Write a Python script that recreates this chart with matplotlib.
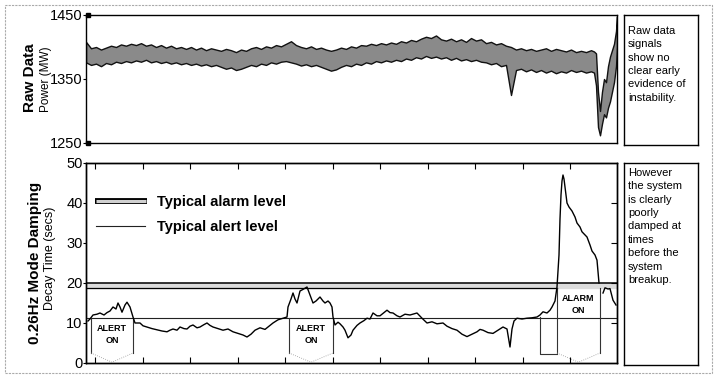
import matplotlib
matplotlib.use("Agg")
import matplotlib.pyplot as plt
from matplotlib.patches import Rectangle
import numpy as np

plt.rcParams["font.family"] = ["Liberation Sans", "DejaVu Sans"]

# ---- raw power data (envelope of the noisy trace), x in samples ----
raw_x = list(range(0, 510, 5)) + [508, 510, 512, 514, 516, 518, 520, 522, 524, 526, 528, 530, 531]
raw_upper = [1408, 1398, 1400, 1396, 1399, 1402, 1400, 1404, 1402, 1405,
             1403, 1406, 1402, 1404, 1400, 1403, 1399, 1402, 1398, 1400,
             1397, 1400, 1396, 1399, 1395, 1398, 1396, 1394, 1397, 1395,
             1392, 1396, 1394, 1398, 1400, 1397, 1401, 1399, 1403, 1401,
             1405, 1409, 1403, 1400, 1398, 1401, 1397, 1399, 1396, 1394,
             1396, 1399, 1397, 1401, 1399, 1403, 1402, 1405, 1403, 1406,
             1404, 1407, 1405, 1409, 1407, 1411, 1409, 1413, 1416, 1414,
             1418, 1412, 1410, 1413, 1409, 1412, 1408, 1414, 1410, 1412,
             1406, 1408, 1404, 1406, 1402, 1400, 1396, 1398, 1395, 1397,
             1394, 1396, 1398, 1394, 1397, 1395, 1393, 1396, 1392, 1394,
             1392, 1395,
             1393, 1390, 1330, 1300, 1330, 1350, 1345, 1370, 1385, 1395, 1405, 1425, 1448]
raw_lower = [1376, 1372, 1374, 1370, 1375, 1373, 1377, 1375, 1378, 1376,
             1379, 1377, 1380, 1376, 1378, 1375, 1377, 1374, 1376, 1373,
             1375, 1372, 1374, 1371, 1373, 1370, 1372, 1369, 1366, 1368,
             1364, 1366, 1369, 1372, 1370, 1374, 1372, 1376, 1374, 1377,
             1378, 1376, 1374, 1371, 1373, 1370, 1372, 1369, 1366, 1363,
             1365, 1369, 1372, 1370, 1374, 1372, 1376, 1374, 1378, 1376,
             1379, 1377, 1380, 1378, 1382, 1380, 1384, 1382, 1386, 1383,
             1385, 1382, 1384, 1380, 1383, 1379, 1381, 1378, 1380, 1377,
             1376, 1373, 1375, 1370, 1372, 1325, 1364, 1366, 1362, 1365,
             1361, 1364, 1360, 1363, 1359, 1362, 1360, 1364, 1361, 1363,
             1360, 1362,
             1360, 1340, 1275, 1262, 1280, 1295, 1290, 1305, 1315, 1330, 1345, 1370, 1400]

# ---- 0.26 Hz mode decay time (secs) ----
damp_x = [2, 4, 7, 11, 14, 18, 21, 24, 27, 30, 32, 34, 36, 39, 41, 44, 47, 49,
          54, 57, 61, 66, 71, 76, 81, 84, 87, 91, 94, 98, 101, 104, 107, 111, 114,
          118, 121, 124, 127, 132, 137, 142, 147, 152, 157, 161, 165, 169, 174, 179,
          184, 187, 192, 197, 201, 202, 205, 207, 209, 211, 214, 217, 221, 224, 227,
          230, 234, 237, 239, 242, 244, 246, 247, 249, 252, 254, 257, 259, 262, 265,
          267, 271, 274, 278, 281, 284, 287, 291, 294, 298, 301, 304, 307, 311, 314,
          319, 324, 331, 336, 341, 346, 351, 357, 361, 366, 371, 376, 381, 386, 391,
          394, 397, 402, 407, 412, 417, 421, 424, 426, 428, 431, 436, 441, 446, 451,
          454, 457, 461, 464, 466, 469, 471, 473, 474, 475, 476, 477, 478, 479, 481,
          483, 486, 489, 491, 494, 496, 499, 501, 504, 506, 509, 511, 513,
          515, 517, 519, 522, 524, 527, 530]
damp_y = [10.5, 11, 12, 12.2, 12.5, 12, 12.6, 13, 14, 13.5, 15, 14, 12.7, 14.5, 15.2, 14, 11.5, 10,
          10, 9.3, 9, 8.6, 8.3, 8.0, 7.8, 8.2, 8.5, 8.2, 9, 8.6, 8.5, 9.2, 9.5, 8.8, 9,
          9.6, 10, 9.4, 9, 8.6, 8.2, 8.5, 7.8, 7.4, 7.0, 6.5, 7.2, 8.2, 8.8, 8.4,
          9.4, 10, 10.8, 11.2, 11.5, 14, 16, 17.5, 16, 15, 18, 18.4, 19, 17, 15,
          15.5, 16.5, 15.5, 15, 15.5, 15, 14, 11.5, 9.5, 10.2, 9.8, 9.0, 8.2, 6.3, 7.0,
          8.2, 9.4, 10, 10.6, 11.2, 11.0, 12.5, 11.8, 11.8, 12.6, 13.2, 12.6, 12.5, 11.8, 11.5,
          12.2, 12.0, 12.5, 11.2, 10, 10.3, 9.8, 10, 9.2, 8.6, 8.2, 7.2, 6.6, 7.2, 7.8,
          8.4, 8.2, 7.6, 7.4, 8.2, 9, 8.5, 4, 8.5, 10.5, 11.2, 11.0, 11.2, 11.3, 11.5,
          12, 12.8, 12.5, 13.2, 14, 15.5, 19, 27, 36, 42, 45.5, 47, 46, 44, 40,
          39, 38, 36.5, 35, 34, 32.8, 32, 31.5, 29.5, 28, 27, 25.7, 20,
          np.nan, 17.5, 18.8, 18.5, 18.6, 15.7, 14.5]

alarm_level = [18.8, 20.0]
alert_level = 11.3
alert_windows = [(5, 47), (203, 247)]
alarm_window = (471, 514)

legend_labels = ["Typical alarm level", "Typical alert level"]
note_top = "Raw data\nsignals\nshow no\nclear early\nevidence of\ninstability."
note_bottom = "However\nthe system\nis clearly\npoorly\ndamped at\ntimes\nbefore the\nsystem\nbreakup."

fig = plt.figure(figsize=(7.17, 3.84), dpi=100)
W, H = 717, 384


def px_axes(x0, y0, x1, y1):
    return fig.add_axes([x0 / W, 1 - y1 / H, (x1 - x0) / W, (y1 - y0) / H])


# ---------------- top: raw data ----------------
ax1 = px_axes(86, 15, 617, 143)
ax1.fill_between(raw_x, raw_lower, raw_upper, facecolor="#8a8a8a", edgecolor="#111111",
                 linewidth=1.0, zorder=2)
ax1.set_xlim(0, 531)
ax1.set_ylim(1250, 1450)
ax1.set_yticks([1250, 1350, 1450])
ax1.tick_params(axis="y", direction="out", length=2, pad=0.5, labelsize=10.5)
ax1.tick_params(axis="x", bottom=False, labelbottom=False)
ax1.plot([2, 2], [1250, 1450], "s", ms=3, color="k", clip_on=False, zorder=5)
for s in ax1.spines.values():
    s.set_linewidth(1.0)
fig.text(30 / W, 1 - 78 / H, "Raw Data", rotation=90, ha="center", va="center",
         fontsize=11, fontweight="bold")
fig.text(46 / W, 1 - 79 / H, "Power (MW)", rotation=90, ha="center", va="center",
         fontsize=8.5)

# ---------------- bottom: mode damping ----------------
ax2 = px_axes(86, 163, 617, 363)
ax2.set_xlim(0, 531)
ax2.set_ylim(0, 50)

# alarm band
ax2.fill_between([0, 531], alarm_level[0], alarm_level[1], color="#dcdcdc", zorder=1)
ax2.plot([0, 531], [alarm_level[1]] * 2, color="k", lw=1.1, zorder=3)
ax2.plot([0, alarm_window[0]], [alarm_level[0]] * 2, color="k", lw=0.9, zorder=3)
# alert line
ax2.axhline(alert_level, color="#222222", lw=0.8, zorder=3)


# alert / alarm boxes
def pentagon(x0, x1, top, label):
    xm = (x0 + x1) / 2
    ax2.plot([x0, x0], [top, 2.5], color="#333333", lw=0.8, zorder=3)
    ax2.plot([x1, x1], [top, 2.5], color="#333333", lw=0.8, zorder=3)
    ax2.plot([x0, xm, x1], [2.5, 0.2, 2.5], color="#999999", lw=0.6, ls=":", zorder=3)
    ax2.text(xm, top - 4.2, label, ha="center", va="center", fontsize=6.5,
             fontweight="bold", linespacing=1.5, zorder=4)


for a, b in alert_windows:
    pentagon(a, b, alert_level, "ALERT\nON")
pentagon(alarm_window[0], alarm_window[1], alarm_level[0], "ALARM\nON")
ax2.plot([454, 454, alarm_window[0]], [11.5, 2.3, 2.3], color="#333333", lw=0.8, zorder=3)

ax2.plot(damp_x, damp_y, color="k", lw=1.0, zorder=4)

# legend drawn by hand
ax2.plot([9, 61], [40.5, 40.5], color="k", lw=4.2, solid_capstyle="butt", zorder=3)
ax2.plot([10, 60], [40.5, 40.5], color="#d0d0d0", lw=2.2, solid_capstyle="butt", zorder=4)
ax2.plot([10, 59], [34.3, 34.3], color="#222222", lw=0.8, zorder=3)
ax2.text(71, 40.3, legend_labels[0], fontsize=10.5, fontweight="bold", va="center")
ax2.text(71, 34.1, legend_labels[1], fontsize=10.5, fontweight="bold", va="center")

ax2.set_yticks([0, 10, 20, 30, 40, 50])
ax2.tick_params(axis="y", direction="out", length=2, pad=0.5, labelsize=10.5)
ax2.set_xticks(np.arange(9, 531, 47.5))
ax2.tick_params(axis="x", direction="in", top=True, bottom=True, length=4,
                labelbottom=False)
ax2r = ax2.twinx()
ax2r.set_ylim(0, 50)
ax2r.set_yticks([10, 20, 30, 40])
ax2r.tick_params(axis="y", direction="in", length=4, labelright=False)
for a in (ax2, ax2r):
    for s in a.spines.values():
        s.set_linewidth(1.0)
fig.text(35 / W, 1 - 263 / H, "0.26Hz Mode Damping", rotation=90, ha="center",
         va="center", fontsize=11, fontweight="bold")
fig.text(50 / W, 1 - 258 / H, "Decay Time (secs)", rotation=90, ha="center",
         va="center", fontsize=9)

# ---------------- side notes ----------------
for (y0, y1, txt, off) in [(15, 145, note_top, 11), (163, 365, note_bottom, 5)]:
    bx = px_axes(624, y0, 698, y1)
    bx.set_xticks([])
    bx.set_yticks([])
    for s in bx.spines.values():
        s.set_linewidth(1.0)
    bx.text(4 / 74, 1 - off / (y1 - y0), txt, transform=bx.transAxes, ha="left",
            va="top", fontsize=8, linespacing=1.42)

fig.patches.append(Rectangle((5 / W, 1 - 373 / H), 707 / W, 368 / H,
                             transform=fig.transFigure, fill=False, ec="#aaaaaa",
                             lw=0.8, ls=(0, (2, 1))))

fig.savefig("out.png", dpi=100)
